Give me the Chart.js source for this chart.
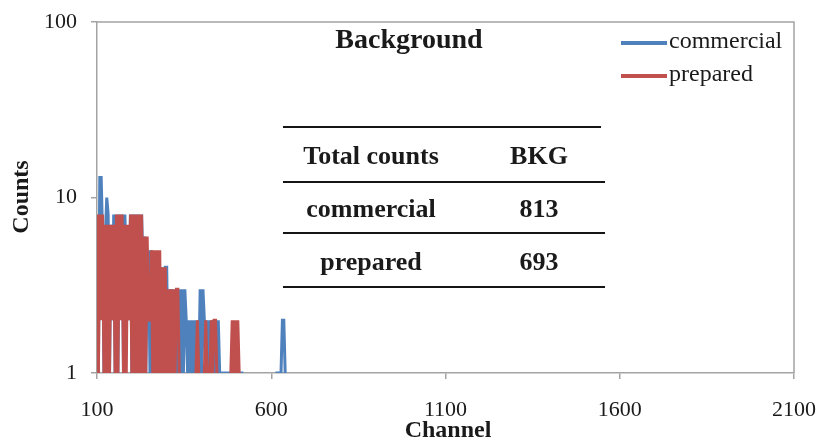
<!DOCTYPE html>
<html>
<head>
<meta charset="utf-8">
<script src="https://cdn.jsdelivr.net/npm/chart.js@4.4.1/dist/chart.umd.min.js"></script>
<style>
  html, body { margin: 0; padding: 0; background: #ffffff; }
  #wrap { width: 819px; height: 437px; }
</style>
</head>
<body>
<div id="wrap"><canvas id="spectrum" width="819" height="437"></canvas></div>
<script>
// Channel positions of the spectrum samples
const channels = [
  100,104,108,112,116,120,124,128,132,136,
  140,144,148,152,156,160,164,168,172,176,
  180,184,188,192,196,200,204,208,212,216,
  220,224,228,232,236,240,244,248,252,256,
  260,264,268,272,276,280,284,288,292,296,
  300,304,308,312,316,320,324,328,332,336,
  340,344,348,352,356,360,364,368,372,376,
  380,384,388,392,396,400,404,408,412,416,
  420,424,428,432,436,440,444,448,452,456,
  460,464,468,472,476,480,484,488,492,496,
  500,504,508,512,516,520,524,528,532,536,
  540,544,548,552,556,560,564,568,572,576,
  580,584,588,592,596,600,604,608,612,616,
  620,624,628,632,636,640
];

// Background counts, commercial source
const commercialCounts = [
  4,1,13,13,6,1,6,10,8,1,
  7,2,8,1,8,1,8,5,8,1,
  8,4,6,2,8,1,8,1,8,1,
  8,1,8,4,6,1,4,5,1,5,
  1,4,1,4,1,3,1,4,1,4,
  4,1,3,1,3,1,2,1,2,3,
  1,3,1,3,2,1,2,1,2,1,
  2,1,2,1,3,1,3,2,1,2,
  1,2,1,2,1,2,1,2,1,1,
  1,1,1,1,1,1,1,1,1,1,
  1,1,1,1,1,1,null,null,null,null,
  null,null,null,null,null,null,null,null,null,null,
  null,null,null,null,null,null,null,null,1,1,
  1,1,1,2,2,1
];

// Background counts, prepared source
const preparedCounts = [
  8,1,8,2,8,1,7,1,7,1,
  7,2,7,1,8,1,8,2,8,1,
  7,1,7,2,8,1,8,1,8,1,
  8,1,8,1,6,1,6,2,2,5,
  1,5,1,5,1,5,1,4,1,4,
  1,3,1,3,1,3,1,3,3,1,
  null,null,null,null,null,null,null,null,null,null,
  null,1,2,1,null,null,null,1,2,1,
  null,1,2,1,2,2,1,null,null,null,
  null,null,null,null,null,null,1,2,1,2,
  1,2,1
];

const seriesNames = ['commercial', 'prepared'];
const seriesColors = ['#4F81BD', '#C0504D'];

const xTicks = [100, 600, 1100, 1600, 2100];
const yTicks = [1, 10, 100];

const tableHeader = ['Total counts', 'BKG'];
const tableNames = ['commercial', 'prepared'];
const tableTotals = [813, 693];

const chartTitle = 'Background';
const xTitle = 'Channel';
const yTitle = 'Counts';

const AXIS_GRAY = '#a3a3a3';
const TEXT = '#1a1a1a';
const SERIF = '"Liberation Serif", "Times New Roman", Times, serif';

function toPoints(values) {
  return values.map((v, i) => ({ x: channels[i], y: v }));
}

function noEdgePadding(scale) {
  scale.paddingLeft = 0;
  scale.paddingRight = 0;
  scale.paddingTop = 0;
  scale.paddingBottom = 0;
}

const decor = {
  id: 'decor',
  beforeDatasetsDraw(chart) {
    const { ctx, chartArea: a } = chart;
    ctx.save();
    ctx.strokeStyle = AXIS_GRAY;
    ctx.lineWidth = 1.5;
    ctx.beginPath();
    ctx.moveTo(a.left, a.top);
    ctx.lineTo(a.right, a.top);
    ctx.lineTo(a.right, a.bottom);
    ctx.stroke();
    ctx.restore();
  },
  afterDraw(chart) {
    const { ctx } = chart;
    ctx.save();
    ctx.fillStyle = TEXT;

    // chart title
    ctx.font = 'bold 28px ' + SERIF;
    ctx.textAlign = 'center';
    ctx.textBaseline = 'alphabetic';
    ctx.fillText(chartTitle, 409, 48);

    // axis titles
    ctx.font = 'bold 24px ' + SERIF;
    ctx.textBaseline = 'middle';
    ctx.fillText(xTitle, 448, 431);
    ctx.save();
    ctx.translate(22, 197);
    ctx.rotate(-Math.PI / 2);
    ctx.fillText(yTitle, 0, 0);
    ctx.restore();

    // legend
    chart.data.datasets.forEach((ds, i) => {
      const y = 43 + i * 33;
      ctx.strokeStyle = ds.borderColor;
      ctx.lineWidth = 4;
      ctx.beginPath();
      ctx.moveTo(621, y);
      ctx.lineTo(667, y);
      ctx.stroke();
      ctx.font = '24px ' + SERIF;
      ctx.textAlign = 'left';
      ctx.textBaseline = 'middle';
      ctx.fillStyle = TEXT;
      ctx.fillText(ds.label, 669, y - 1);
    });

    // summary table
    const rules = [127, 182, 233, 287];
    ctx.strokeStyle = '#151515';
    ctx.lineWidth = 2;
    rules.forEach((y, i) => {
      ctx.beginPath();
      ctx.moveTo(283, y);
      ctx.lineTo(i === 0 ? 601 : 605, y);
      ctx.stroke();
    });
    ctx.font = 'bold 26px ' + SERIF;
    ctx.textAlign = 'center';
    ctx.textBaseline = 'middle';
    ctx.fillStyle = TEXT;
    const col1 = 371, col2 = 539;
    ctx.fillText(tableHeader[0], col1, 157);
    ctx.fillText(tableHeader[1], col2, 157);
    tableNames.forEach((name, i) => {
      const y = 210 + i * 53;
      ctx.fillText(name, col1, y);
      ctx.fillText(String(tableTotals[i]), col2, y);
    });
    ctx.restore();
  }
};

new Chart(document.getElementById('spectrum'), {
  type: 'line',
  data: {
    datasets: [
      {
        label: seriesNames[0],
        data: toPoints(commercialCounts),
        borderColor: seriesColors[0],
        backgroundColor: seriesColors[0],
        borderWidth: 3,
        pointRadius: 0,
        tension: 0,
        spanGaps: false,
        order: 1
      },
      {
        label: seriesNames[1],
        data: toPoints(preparedCounts),
        borderColor: seriesColors[1],
        backgroundColor: seriesColors[1],
        borderWidth: 3,
        pointRadius: 0,
        tension: 0,
        spanGaps: false,
        order: 0
      }
    ]
  },
  options: {
    responsive: false,
    devicePixelRatio: 1,
    animation: false,
    layout: { padding: { top: 22, right: 25, bottom: 0, left: 0 } },
    plugins: {
      legend: { display: false },
      tooltip: { enabled: false },
      title: { display: false }
    },
    scales: {
      x: {
        type: 'linear',
        min: 100,
        max: 2100,
        afterBuildTicks(scale) { scale.ticks = xTicks.map(v => ({ value: v })); },
        afterFit(scale) { scale.height = 64; noEdgePadding(scale); },
        grid: { drawOnChartArea: false, tickLength: 6, color: AXIS_GRAY, lineWidth: 1.5 },
        border: { display: true, color: AXIS_GRAY, width: 1.5 },
        ticks: {
          padding: 18,
          maxRotation: 0,
          color: TEXT,
          font: { family: SERIF, size: 22 },
          callback: v => String(v)
        }
      },
      y: {
        type: 'logarithmic',
        min: 1,
        max: 100,
        afterBuildTicks(scale) { scale.ticks = yTicks.map(v => ({ value: v })); },
        afterFit(scale) { scale.width = 97; noEdgePadding(scale); },
        grid: { drawOnChartArea: false, tickLength: 6, color: AXIS_GRAY, lineWidth: 1.5 },
        border: { display: true, color: AXIS_GRAY, width: 1.5 },
        ticks: {
          padding: 14,
          color: TEXT,
          font: { family: SERIF, size: 22 },
          callback: v => String(v)
        }
      }
    }
  },
  plugins: [decor]
});
</script>
</body>
</html>
